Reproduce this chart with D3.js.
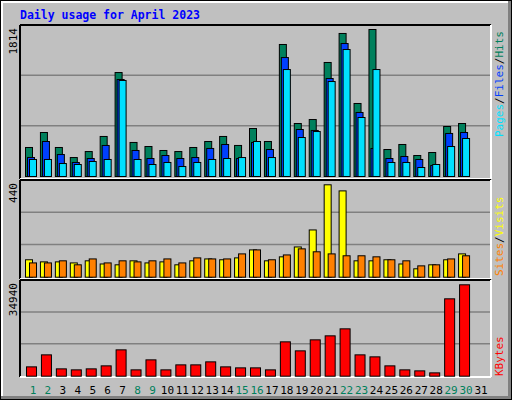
<!DOCTYPE html><html><head><meta charset="utf-8"><script src="https://cdn.jsdelivr.net/npm/d3@7"></script>
<style>body{margin:0;background:#fff}</style></head><body><svg id="c" width="512" height="400"></svg>
<script>
const days=d3.range(1,32);
const weekend=[1,2,8,9,15,16,22,23,29,30];
const hits=[358,543,358,234,308,494,1283,420,370,321,308,358,432,494,383,592,432,1629,654,703,1407,1765,901,1814,333,395,259,296,617,654];
const files=[234,432,271,173,222,383,1197,321,222,259,222,234,346,395,222,420,333,1468,580,568,1209,1641,790,346,222,247,210,136,531,543];
const pages=[210,210,160,148,185,210,1185,210,148,173,123,173,210,222,234,432,234,1320,481,555,1172,1567,728,1320,173,173,111,148,370,469];
const visits=[83,73,73,68,78,63,59,78,68,73,59,78,87,83,92,130,78,97,144,225,440,411,78,78,83,63,40,59,83,111];
const sites=[68,68,78,59,87,68,78,73,78,87,68,92,87,87,111,130,83,106,135,121,111,102,102,97,83,78,54,59,87,102];
const kbytes=[3570,8160,2805,2423,2805,3953,10073,2423,6248,2423,4335,4335,5483,3570,3188,3188,2423,13133,9690,13898,15428,18105,8160,7395,3953,2423,2040,1275,29580,34940];
const maxP=1814,maxV=440,maxK=34940;
const svg=d3.select("#c");
// frame
svg.append("rect").attr("x",0).attr("y",0).attr("width",512).attr("height",400).attr("fill","#000");
svg.append("rect").attr("x",1).attr("y",1).attr("width",510).attr("height",398).attr("fill","#808080");
svg.append("rect").attr("x",1).attr("y",1).attr("width",507).attr("height",395).attr("fill","#fff");
svg.append("rect").attr("x",3).attr("y",3).attr("width",505).attr("height",393).attr("fill","#c0c0c0");
svg.append("text").attr("x",20).attr("y",19).text("Daily usage for April 2023").attr("fill","#0000ff")
 .attr("font-family","DejaVu Sans Mono").attr("font-weight","bold").attr("font-size",11.5);
const x=d3.scaleLinear().domain([1,31]).range([33,481]);
const L=20,R=491;
function panel(top,bot,base,topv,max){
  svg.append("line").attr("x1",L).attr("x2",R).attr("y1",top).attr("y2",top).attr("stroke","#000").attr("stroke-width",2);
  const y=d3.scaleLinear().domain([0,max]).range([base,topv]);
  const sp=(base-top)/3;
  [1,2].forEach(i=>svg.append("line").attr("x1",L+1).attr("x2",R-1).attr("y1",base-i*sp*1.0).attr("y2",base-i*sp*1.0).attr("stroke","#808080").attr("stroke-width",1.5));
  svg.append("line").attr("x1",L).attr("x2",L).attr("y1",top).attr("y2",bot).attr("stroke","#000").attr("stroke-width",2);
  svg.append("line").attr("x1",R).attr("x2",R).attr("y1",top).attr("y2",bot).attr("stroke","#fff").attr("stroke-width",2);
  svg.append("line").attr("x1",L).attr("x2",R).attr("y1",bot).attr("y2",bot).attr("stroke","#fff").attr("stroke-width",2);
  svg.append("text").attr("transform",`translate(17,${top+3}) rotate(-90)`).attr("text-anchor","end")
   .text(max).attr("font-family","DejaVu Sans Mono").attr("font-size",11).attr("fill","#000");
  return y;
}
function bars(y,data,off,w,col){
  svg.append("g").selectAll("rect").data(data).join("rect")
   .attr("x",(d,i)=>x(i+1)+off+0.5).attr("y",d=>y(d)+0.5).attr("width",w).attr("height",d=>y(0)-y(d))
   .attr("fill",col).attr("stroke","#000").attr("stroke-width",1);
}
const y1=panel(25,179,176,29,maxP);
bars(y1,hits,-8,7,"#00805c");bars(y1,files,-6,7,"#0040ff");bars(y1,pages,-4,7,"#00e0ff");
const y2=panel(180,279,276.7,184.3,maxV);
bars(y2,visits,-8,7,"#ffff00");bars(y2,sites,-4,7,"#ff8000");
const y3=panel(280,377,375.7,284.3,maxK);
bars(y3,kbytes,-7,10,"#ff0000");
// right labels
function rlabel(yb,parts){
  const t=svg.append("text").attr("transform",`translate(503,${yb}) rotate(-90)`).attr("font-family","DejaVu Sans Mono").attr("font-size",11);
  parts.forEach(p=>t.append("tspan").text(p[0]).attr("fill",p[1]));
}
rlabel(137,[["Pages","#00e0ff"],["/","#000"],["Files","#0040ff"],["/","#000"],["Hits","#00805c"]]);
rlabel(276,[["Sites","#ff8000"],["/","#000"],["Visits","#ffff00"]]);
rlabel(376,[["KBytes","#ff0000"]]);
svg.append("g").selectAll("text").data(days).join("text").attr("x",d=>x(d)).attr("y",394).attr("text-anchor","middle")
 .text(d=>d).attr("font-family","DejaVu Sans Mono").attr("font-size",11).attr("fill",d=>weekend.includes(d)?"#00805c":"#000");
</script></body></html>
